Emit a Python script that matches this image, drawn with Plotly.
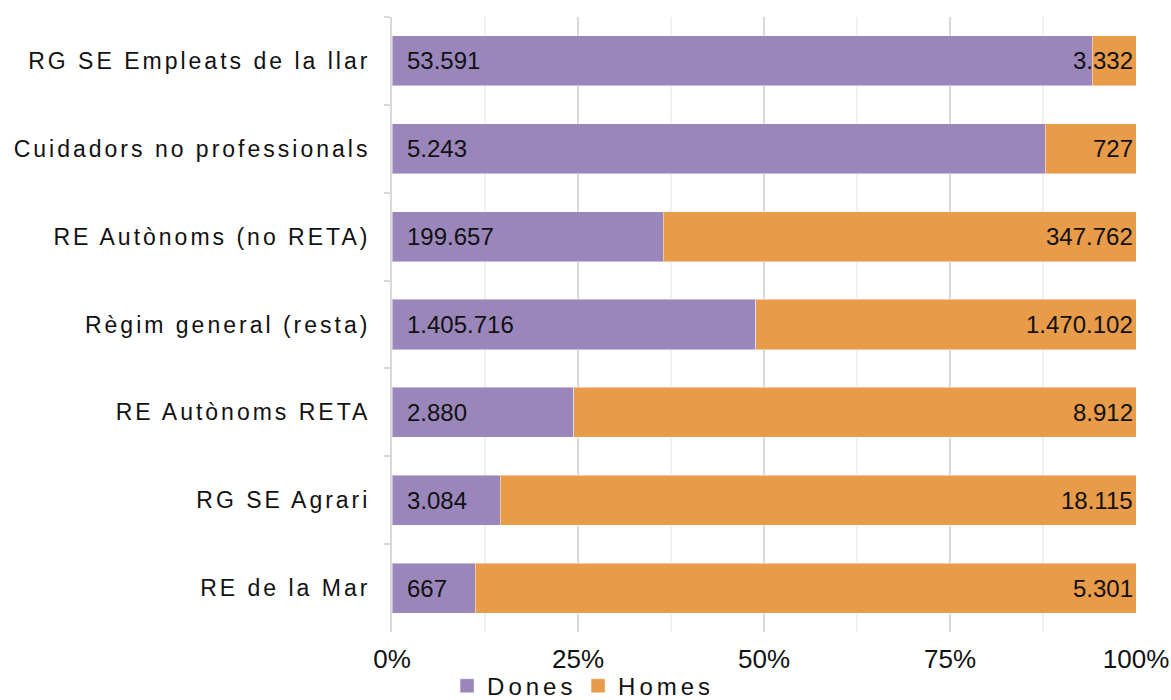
import plotly.graph_objects as go

categories = [
    "RG SE Empleats de la llar",
    "Cuidadors no professionals",
    "RE Autònoms (no RETA)",
    "Règim general (resta)",
    "RE Autònoms RETA",
    "RG SE Agrari",
    "RE de la Mar",
]
dones = [53591, 5243, 199657, 1405716, 2880, 3084, 667]
homes = [3332, 727, 347762, 1470102, 8912, 18115, 5301]
x_ticks = [0, 0.25, 0.5, 0.75, 1.0]

PURPLE = "#9A86BB"
ORANGE = "#E89B48"
FONT = "Liberation Sans, Arial, sans-serif"


def fmt(v):
    return f"{v:,}".replace(",", ".")


fig = go.Figure()
fig.add_trace(go.Bar(
    y=categories, x=dones, name="Dones", orientation="h",
    marker=dict(color=PURPLE, line=dict(color="rgba(255,255,255,0.45)", width=1)),
    hoverinfo="skip",
))
fig.add_trace(go.Bar(
    y=categories, x=homes, name="Homes", orientation="h",
    marker=dict(color=ORANGE, line=dict(color="rgba(255,255,255,0.45)", width=1)),
    hoverinfo="skip",
))

annotations = []
for c, d, h in zip(categories, dones, homes):
    annotations.append(dict(x=0, y=c, xref="x", yref="y", text=fmt(d), showarrow=False,
                            xanchor="left", xshift=13, font=dict(family=FONT, size=24, color="#111")))
    annotations.append(dict(x=1, y=c, xref="x", yref="y", text=fmt(h), showarrow=False,
                            xanchor="right", xshift=-1, font=dict(family=FONT, size=24, color="#111")))

fig.update_layout(
    width=1171, height=700,
    margin=dict(l=392, r=35, t=17, b=68, autoexpand=False),
    barmode="stack", barnorm="fraction", bargap=0.43,
    paper_bgcolor="white", plot_bgcolor="white",
    font=dict(family=FONT, color="#111"),
    annotations=annotations,
    showlegend=True,
    legend=dict(orientation="h", x=0.074, xanchor="left", y=-0.088, yanchor="middle",
                bgcolor="rgba(0,0,0,0)",
                font=dict(family=FONT, size=24, color="#111"),
                entrywidth=86, entrywidthmode="pixels", traceorder="normal"),
    xaxis=dict(range=[0, 1], tickvals=x_ticks, tickformat=".0%", automargin=False,
               showgrid=True, gridcolor="#D9D9D9", gridwidth=2,
               minor=dict(dtick=0.125, tick0=0, showgrid=True, gridcolor="#F0F0F0", gridwidth=2),
               zeroline=False, showline=False, ticks="", ticklabelstandoff=9,
               tickfont=dict(family=FONT, size=26, color="#111"), fixedrange=True),
    yaxis=dict(categoryorder="array", categoryarray=categories, autorange="reversed",
               automargin=False,
               showline=True, linecolor="#D9D9D9", linewidth=2,
               ticks="outside", tickson="boundaries", ticklen=6, tickcolor="#D9D9D9", tickwidth=2,
               ticklabelstandoff=15, showgrid=False,
               tickfont=dict(family=FONT, size=23, color="#111"), fixedrange=True),
)

post = """
document.body.style.margin = '0';
document.body.style.padding = '0';
var gd = document.getElementById('{plot_id}');
function sp(){
  gd.querySelectorAll('.ytick text').forEach(function(t){ t.style.letterSpacing='3px'; });
  gd.querySelectorAll('.legendtext').forEach(function(t){ t.style.letterSpacing='4px'; });
  gd.querySelectorAll('.legendpoints path').forEach(function(p){ p.setAttribute('d','M7,7H-7V-7H7Z'); });
}
sp();
if (gd.on) { gd.on('plotly_afterplot', sp); }
"""

fig.write_html("out.html", post_script=post, config={"displayModeBar": False})
